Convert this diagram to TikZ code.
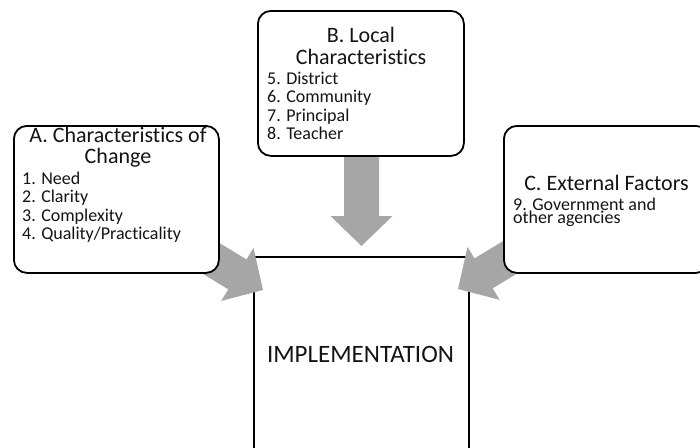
\documentclass[tikz,border=0pt]{standalone}
\usepackage{fontspec}
\setmainfont{Carlito}[Ligatures=NoCommon]
\usetikzlibrary{calc}
\definecolor{arrowgray}{HTML}{A6A6A6}
\definecolor{ink}{HTML}{141414}
\newcommand{\clines}[1]{\vtop{\halign{\hfil##\hfil\cr#1\crcr}}}
\newcommand{\llines}[1]{\vtop{\halign{##\hfil\cr#1\crcr}}}
\newcommand{\fatarrow}[2]{%
  \coordinate (hb) at ($(#2)!30pt!(#1)$);
  \fill[arrowgray] ($(#1)!17.5pt!90:(#2)$) -- ($(hb)!17.5pt!90:(#2)$) -- ($(hb)!31pt!90:(#2)$) -- (#2)
    -- ($(hb)!31pt!-90:(#2)$) -- ($(hb)!17.5pt!-90:(#2)$) -- ($(#1)!17.5pt!-90:(#2)$) -- cycle;}
\tikzset{
  box/.style={draw=black, line width=1.8pt, rounded corners=13pt, fill=white, inner sep=0pt},
  txt/.style={inner sep=0pt, text=ink},
  ttl/.style={txt, font=\fontsize{22}{21.5}\selectfont},
  lst/.style={txt, font=\fontsize{18}{18.5}\selectfont},
}
\begin{document}
\begin{tikzpicture}[x=1pt,y=1pt]
\useasboundingbox (0,0) rectangle (700,-447);
\clip (0,0) rectangle (700,-447);
% implementation box (bottom out of frame)
\node[draw=black, line width=1.8pt, inner sep=0pt, minimum width=215pt, minimum height=230pt, anchor=north west] (impl) at (253,-256) {};
\node[txt, font=\fontsize{25}{25}\selectfont, anchor=base] (impltxt) at (360.5,-362) {IMPLEMENTATION};
% arrow coordinates
\coordinate (aS) at (194.7,-248.4);
\coordinate (aT) at (263,-290);
\coordinate (bS) at (361.5,-140);
\coordinate (bT) at (361.5,-246);
\coordinate (cS) at (526.3,-247.4);
\coordinate (cT) at (458,-289);
\fatarrow{aS}{aT}
\fatarrow{bS}{bT}
\fatarrow{cS}{cT}
% boxes
\node[box, minimum width=205pt, minimum height=147pt, anchor=north west] (A) at (13,-125) {};
\node[box, minimum width=206pt, minimum height=145pt, anchor=north west] (B) at (257,-10) {};
\node[box, minimum width=205pt, minimum height=147pt, anchor=north west] (C) at (503,-125) {};
% texts
\node[ttl, anchor=base] (Atitle) at (118,-142) {\clines{A. Characteristics of\cr Change}};
\node[lst, anchor=base west] (Alist) at (22,-184) {\llines{1. Need\cr 2. Clarity\cr 3. Complexity\cr 4. Quality/Practicality}};
\node[ttl, anchor=base] (Btitle) at (361,-42.5) {\clines{B. Local\cr Characteristics}};
\node[lst, anchor=base west] (Blist) at (267,-84) {\llines{5. District\cr 6. Community\cr 7. Principal\cr 8. Teacher}};
\node[ttl, anchor=base] (Ctitle) at (606.5,-190) {C. External Factors};
\node[txt, font=\fontsize{18}{10.5}\selectfont, anchor=base west] (Clist) at (513,-210) {\llines{9. Government and\cr other agencies}};
\end{tikzpicture}
\end{document}
